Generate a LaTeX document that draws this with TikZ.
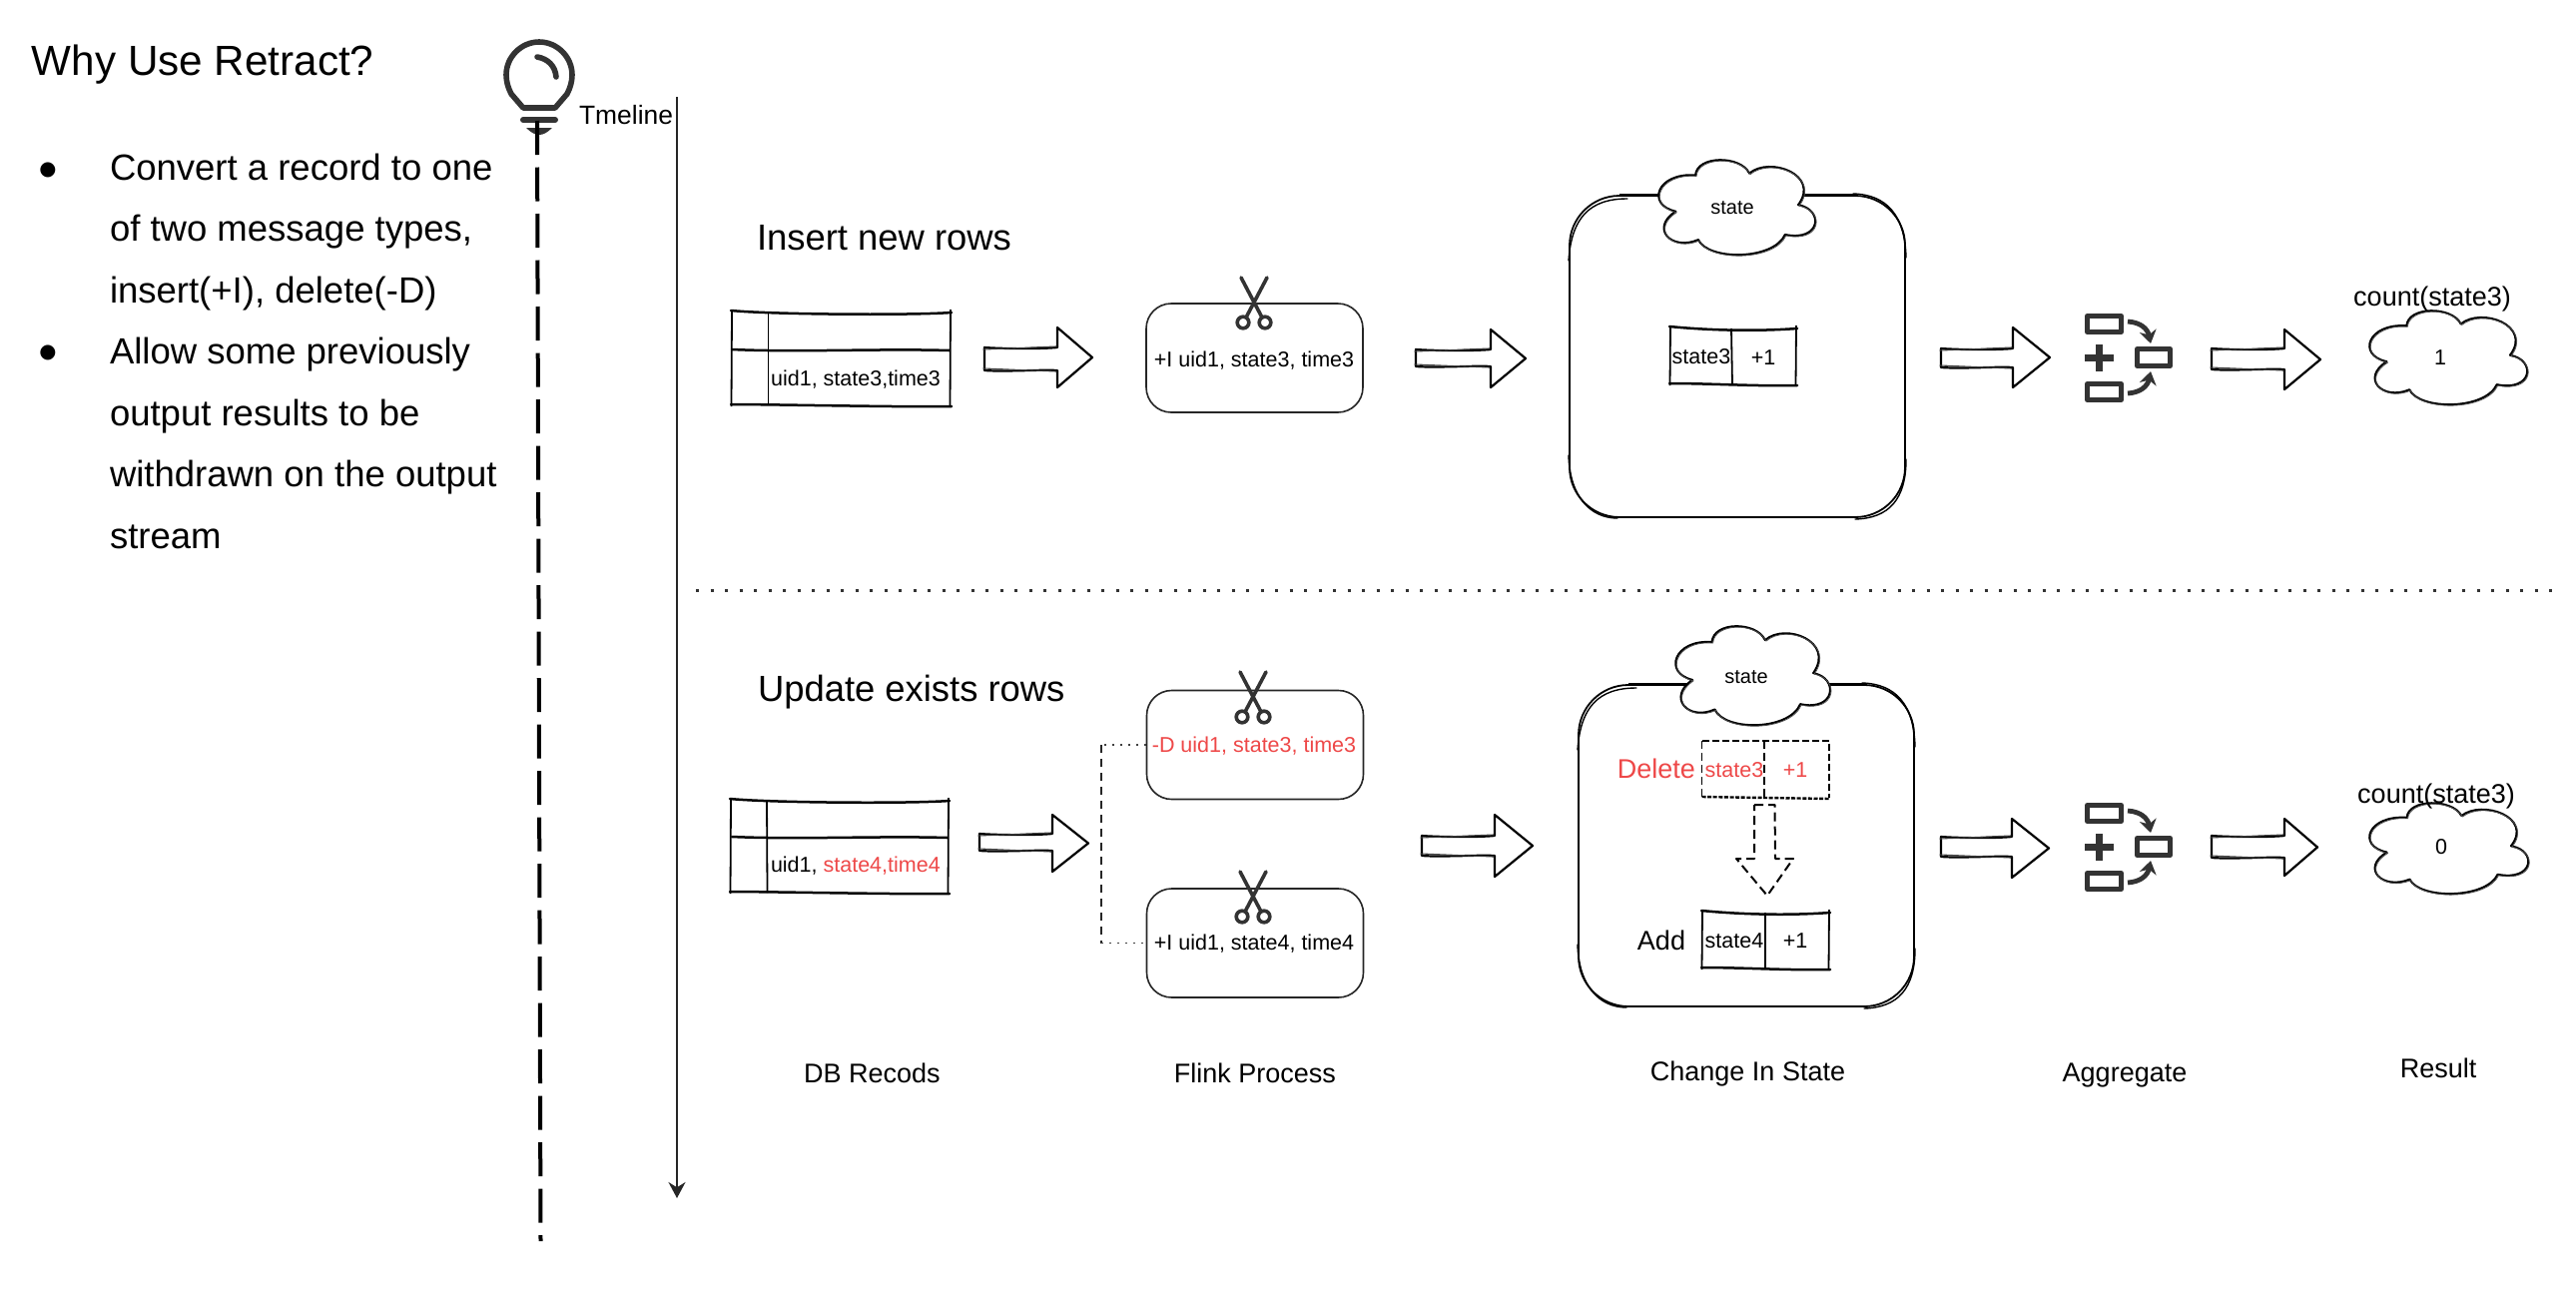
\documentclass[tikz,border=0pt]{standalone}
\usepackage{fontspec}
\setmainfont{Liberation Sans}
\newfontfamily\symfont{DejaVu Sans}
\usetikzlibrary{arrows.meta,calc}
\definecolor{alert}{HTML}{EE4848}
\definecolor{icon}{HTML}{333333}
\tikzset{
  txt/.style={inner sep=0pt,outer sep=0pt,text=black},
  tiny/.style={txt,font=\fontsize{10.75}{12}\selectfont},
  mid/.style={txt,font=\fontsize{13.5}{15}\selectfont},
  head/.style={txt,font=\fontsize{18.2}{20}\selectfont},
  body/.style={txt,anchor=base west,font=\fontsize{18.25}{20}\selectfont},
  sk/.style={line width=1.25pt,black,line cap=round,line join=round},
  skarrow/.style={line width=1.1pt,black,line cap=round,line join=round},
  skthin/.style={line width=.55pt,black!75,line cap=round},
  skdash/.style={line width=1.1pt,black,dash pattern=on 3.5pt off 1.5pt},
  procbox/.style={draw=black!85,line width=.8pt,rounded corners=12.5pt,inner sep=0pt,fill=white,minimum width=108.5pt,minimum height=54.5pt},
  bigbox/.style={draw=black,line width=.9pt,rounded corners=25pt,inner sep=0pt,minimum width=168pt,minimum height=161pt},
  iconline/.style={draw=icon,line width=2.5pt,line join=round},
}
% block arrow: tail, base, tip, shaft top, shaft bottom, head top, head bottom
\newcommand\blockarrow[7]{%
  \draw[skarrow,fill=white] (#1,#4) .. controls ({#1+20},{#4+1.5}) and ({#2-15},{#4+1.5}) .. (#2,#4)
     -- (#2,#6) -- (#3,{(#6+#7)/2}) -- (#2,#7) -- (#2,#5)
     .. controls ({#2-15},{#5-1}) and ({#1+20},{#5+1.5}) .. (#1,#5) -- cycle;
  \draw[skthin] ({#1-1},{#4+2}) -- ({#2-1},{#4-1});
  \draw[skthin] ({#1-1},{#5-2}) -- ({#2-1},{#5+1});
}
% hand-drawn rectangle outline
\newcommand\sketchrect[4]{%
  \draw[sk] ({#1-1},{#2-2}) .. controls ({#1+40},{#2+2}) and ({#3-40},{#2+3}) .. ({#3+1},{#2});
  \draw[sk] ({#1-1},{#4-1}) .. controls ({#1+40},{#4-1}) and ({#3-40},{#4+2}) .. ({#3+1},{#4+1});
  \draw[line width=.9pt,black] (#1,{#2-3}) -- ({#1-.5},{#4+1});
  \draw[line width=.9pt,black] (#3,{#2-3}) -- ({#3-.5},{#4+1});
}
% extra hand-drawn corner strokes of a big box
\newcommand\sketchcorners[4]{%
  \draw[line width=.7pt,black,line cap=round] ({#1+58},{#2+3}) .. controls ({#1+20},{#2+3}) and ({#1+2},{#2+22}) .. ({#1-1},{#2+65});
  \draw[line width=.7pt,black,line cap=round] ({#3-52},{#2-2}) .. controls ({#3-18},{#2-1}) and ({#3},{#2+20}) .. ({#3+1},{#2+62});
  \draw[line width=.7pt,black,line cap=round] ({#1-1},{#4-62}) .. controls ({#1},{#4-22}) and ({#1+20},{#4+1}) .. ({#1+48},{#4+1});
  \draw[line width=.7pt,black,line cap=round] ({#3+1},{#4-58}) .. controls ({#3+1},{#4-18}) and ({#3-16},{#4+1}) .. ({#3-50},{#4+2});
  \draw[line width=1.1pt,black] ({#1+50},{#4}) -- ({#3-50},{#4});
  \draw[line width=1.1pt,black] ({#1+50},{#2-.5}) -- ({#3-50},{#2-.5});
}
% scissors: pivot x, top y
\newcommand\scissors[2]{%
  \begin{scope}[shift={(#1,#2)}]
    \draw[icon,line width=1.8pt,line cap=round] (-13,0) -- (7.5,39);
    \draw[icon,line width=1.8pt,line cap=round] (13,0) -- (-7.5,39);
    \draw[icon,line width=1.8pt,fill=white] (-11,45) circle[radius=5.8];
    \draw[icon,line width=1.8pt,fill=white] (11,45) circle[radius=5.8];
  \end{scope}}
% aggregate icon: vertical offset
\newcommand\aggicon[1]{%
  \begin{scope}[shift={(0,#1)}]
    \draw[iconline] (2090.5,316.5) rectangle (2124.5,332.5);
    \draw[iconline] (2090.5,384.5) rectangle (2124.5,400.5);
    \draw[iconline] (2140.5,349.5) rectangle (2173.5,366.5);
    \draw[icon,line width=3.4pt] (2088,358.5) -- (2117,358.5);
    \draw[icon,line width=3.4pt] (2102.5,345) -- (2102.5,372);
    \draw[icon,line width=2.4pt,-{Stealth[length=6.5pt,width=8.5pt]}] (2131,322) .. controls (2145,323) and (2151,330) .. (2154,344);
    \draw[icon,line width=2.4pt,-{Stealth[length=6.5pt,width=8.5pt]}] (2131,394) .. controls (2145,393) and (2151,386) .. (2154,372);
  \end{scope}}
% cloud: centre x, centre y, half width, half height
\newcommand\cloudpath{(-0.52,-0.69) .. controls (-0.5,-1.12) and (0.1,-1.12) .. (0.22,-0.73)
    .. controls (0.5,-1.1) and (1.2,-0.7) .. (0.89,-0.05)
    .. controls (1.25,0.05) and (1.2,0.75) .. (0.71,0.59)
    .. controls (0.55,1.15) and (-0.35,1.15) .. (-0.48,0.7)
    .. controls (-0.85,0.95) and (-1.15,0.45) .. (-0.79,0.09)
    .. controls (-1.2,-0.05) and (-1.05,-0.75) .. (-0.52,-0.69) -- cycle}
\newcommand\cloudshape[4]{%
  \begin{scope}[shift={(#1,#2)},xscale=#3,yscale=#4]
    \draw[line width=1pt,black,fill=white,line join=round] \cloudpath;
  \end{scope}
  \begin{scope}[shift={({#1+1},{#2+1})},xscale=#3,yscale=#4]
    \draw[line width=.4pt,black!70,line join=round] \cloudpath;
  \end{scope}}
\begin{document}
\begin{tikzpicture}[x=0.5pt,y=-0.5pt]
\useasboundingbox (0,0) rectangle (2580,1296);
\fill[white] (0,0) rectangle (2580,1296);

% left text
\node[txt,anchor=base west,font=\fontsize{21.1}{24}\selectfont] (title) at (32,75) {Why Use Retract?};
\node[txt,font=\symfont\fontsize{9.8}{12}\selectfont] (b1) at (48,170) {●};
\node[txt,font=\symfont\fontsize{9.8}{12}\selectfont] (b2) at (48,353) {●};
\node[body] (l1) at (110,180) {Convert a record to one};
\node[body] (l2) at (110,241.5) {of two message types,};
\node[body] (l3) at (110,303) {insert(+I), delete(-D)};
\node[body] (l4) at (110,364.5) {Allow some previously};
\node[body] (l5) at (110,426) {output results to be};
\node[body] (l6) at (110,487.5) {withdrawn on the output};
\node[body] (l7) at (110,549) {stream};

% bulb and its dashed line
\draw[icon,line width=2.8pt,line join=round] (512,94) .. controls (509,88) and (507,82) .. (507,75)
   .. controls (507,57) and (522,42) .. (540,42)
   .. controls (558,42) and (573,57) .. (573,75)
   .. controls (573,82) and (571,88) .. (568,94) -- (556,108) -- (524,108) -- cycle;
\draw[icon,line width=2.8pt,line cap=round] (538,57) .. controls (549,59) and (556,66) .. (557,77);
\draw[icon,line width=3pt,line cap=round] (524,120) -- (556,120);
\fill[icon] (527,128) -- (553,128) .. controls (548,133) and (544,135) .. (540,135) .. controls (536,135) and (532,133) .. (527,128) -- cycle;
\coordinate (ltop) at (538,121);
\coordinate (lbot) at (541.5,1243);
\draw[black,line width=2pt,dash pattern=on 17pt off 6.25pt] (ltop) -- (lbot);

% timeline
\coordinate (ttop) at (678,97);
\coordinate (tbot) at (678,1200);
\draw[black!85,line width=.8pt,-{Stealth[length=8pt,width=8.5pt]}] (ttop) -- (tbot);
\node[mid,font=\fontsize{13.2}{15}\selectfont,anchor=east] (tl) at (674,115) {Tmeline};

% separator
\coordinate (sa) at (697,591);
\coordinate (sb) at (2566,591);
\draw[black!80,line width=1.5pt,dash pattern=on 1.5pt off 5.75pt] (sa) -- (sb);

% ---------- top row
\node[head,anchor=base west] (h1) at (758,250) {Insert new rows};
\sketchrect{733}{313}{952}{406}
\draw[sk] (733,350) .. controls (800,353) and (880,349) .. (951,351);
\draw[line width=.9pt] (769.5,313) -- (769.5,406);
\node[tiny] (t1) at (857,380) {uid1, state3,time3};
\blockarrow{986}{1059}{1094}{348}{371}{328}{388}

\node[procbox] (p1) at (1256.5,358.5) {};
\scissors{1256}{278}
\node[tiny] (pt1) at (1256,361) {+I uid1, state3, time3};

\blockarrow{1418}{1493}{1528}{350}{367}{330}{388}

\node[bigbox] (s1) at (1740,357) {};
\sketchcorners{1572}{196}{1908}{518}
\cloudshape{1736}{207.5}{73}{46.5}
\node[tiny,font=\fontsize{10}{12}\selectfont] (c1) at (1735,208) {state};
\sketchrect{1673}{329}{1799}{385}
\draw[line width=.9pt] (1734,329) -- (1735,385);
\node[tiny] (st1) at (1704,357) {state3};
\node[tiny] (pl1) at (1766,358) {+1};

\blockarrow{1944}{2016}{2053}{349}{368}{328}{388}
\aggicon{0}
\blockarrow{2215}{2288}{2324}{349}{370}{330}{390}
\cloudshape{2448.5}{358}{73.5}{46}
\node[tiny] (r1) at (2444,358) {1};
\node[mid] (cnt1) at (2436,300) {count(state3)};

% ---------- bottom row
\node[head,anchor=base west] (h2) at (759,702) {Update exists rows};
\sketchrect{732}{802}{950}{894}
\draw[sk] (733,838) .. controls (800,841) and (880,837) .. (949,839);
\draw[line width=.9pt] (768,802) -- (768.5,894);
\node[tiny,anchor=west] (t2) at (772,867) {uid1, \textcolor{alert}{state4,time4}};
\blockarrow{981}{1054}{1090}{835}{852}{816}{873}

\node[procbox] (p2) at (1257,746) {};
\node[procbox] (p3) at (1257,944.5) {};
\scissors{1255}{673}
\scissors{1255}{873}
\node[tiny,text=alert] (pt2) at (1256,747) {-D uid1, state3, time3};
\node[tiny] (pt3) at (1256,945) {+I uid1, state4, time4};
\coordinate (split) at (1103,845);
\draw[black!75,line width=.7pt,dash pattern=on 1pt off 3pt] (p2.west) -- (p2.west -| split);
\draw[black!85,line width=.7pt,dash pattern=on 4pt off 3pt] (p2.west -| split) -- (p3.west -| split);
\draw[black!75,line width=.7pt,dash pattern=on 1pt off 3pt] (p3.west -| split) -- (p3.west);

\blockarrow{1424}{1497}{1535}{837}{857}{816}{878}

\node[bigbox] (s2) at (1749,847) {};
\sketchcorners{1581}{686}{1917}{1008}
\cloudshape{1752}{676.5}{72}{48.5}
\node[tiny,font=\fontsize{10}{12}\selectfont] (c2) at (1749,678) {state};

\node[mid,text=alert,anchor=east] (del) at (1698,770) {Delete};
\draw[skdash] (1704.5,742) -- (1832,742) -- (1832,799);
\draw[line width=.8pt,black,dash pattern=on 4pt off 2pt] (1704.5,742) -- (1704.5,799);
\draw[line width=1.2pt,black,dash pattern=on 2pt off .8pt] (1704.5,798) -- (1833,800);
\draw[line width=.8pt,black,dash pattern=on 4pt off 2pt] (1767,742) -- (1767,799);
\node[tiny,text=alert] (st2) at (1737,771) {state3};
\node[tiny,text=alert] (pl2) at (1798,771) {+1};

\draw[line width=1pt,black,dash pattern=on 4.5pt off 2.5pt,line join=round] (1757,806) -- (1777.5,806) -- (1778,860) -- (1796,860) -- (1770,897) -- (1739,860) -- (1757,860) -- cycle;

\node[mid,anchor=east] (add) at (1688,942) {Add};
\sketchrect{1705}{914}{1832}{970}
\draw[line width=.9pt] (1768,914) -- (1768,970);
\node[tiny] (st3) at (1737,942) {state4};
\node[tiny] (pl3) at (1798,942) {+1};

\blockarrow{1944}{2015}{2052}{838}{858}{820}{879}
\aggicon{490}
\blockarrow{2215}{2288}{2321}{837}{859}{820}{877}
\cloudshape{2449}{849.5}{74}{44.5}
\node[tiny] (r2) at (2445,848) {0};
\node[mid] (cnt2) at (2440,797) {count(state3)};

% ---------- column captions
\node[mid] (cap1) at (873.5,1075) {DB Recods};
\node[mid] (cap2) at (1257,1075) {Flink Process};
\node[mid] (cap3) at (1750.5,1076) {Change In State};
\node[mid] (cap4) at (2128,1077) {Aggregate};
\node[mid] (cap5) at (2442,1070) {Result};
\end{tikzpicture}
\end{document}
